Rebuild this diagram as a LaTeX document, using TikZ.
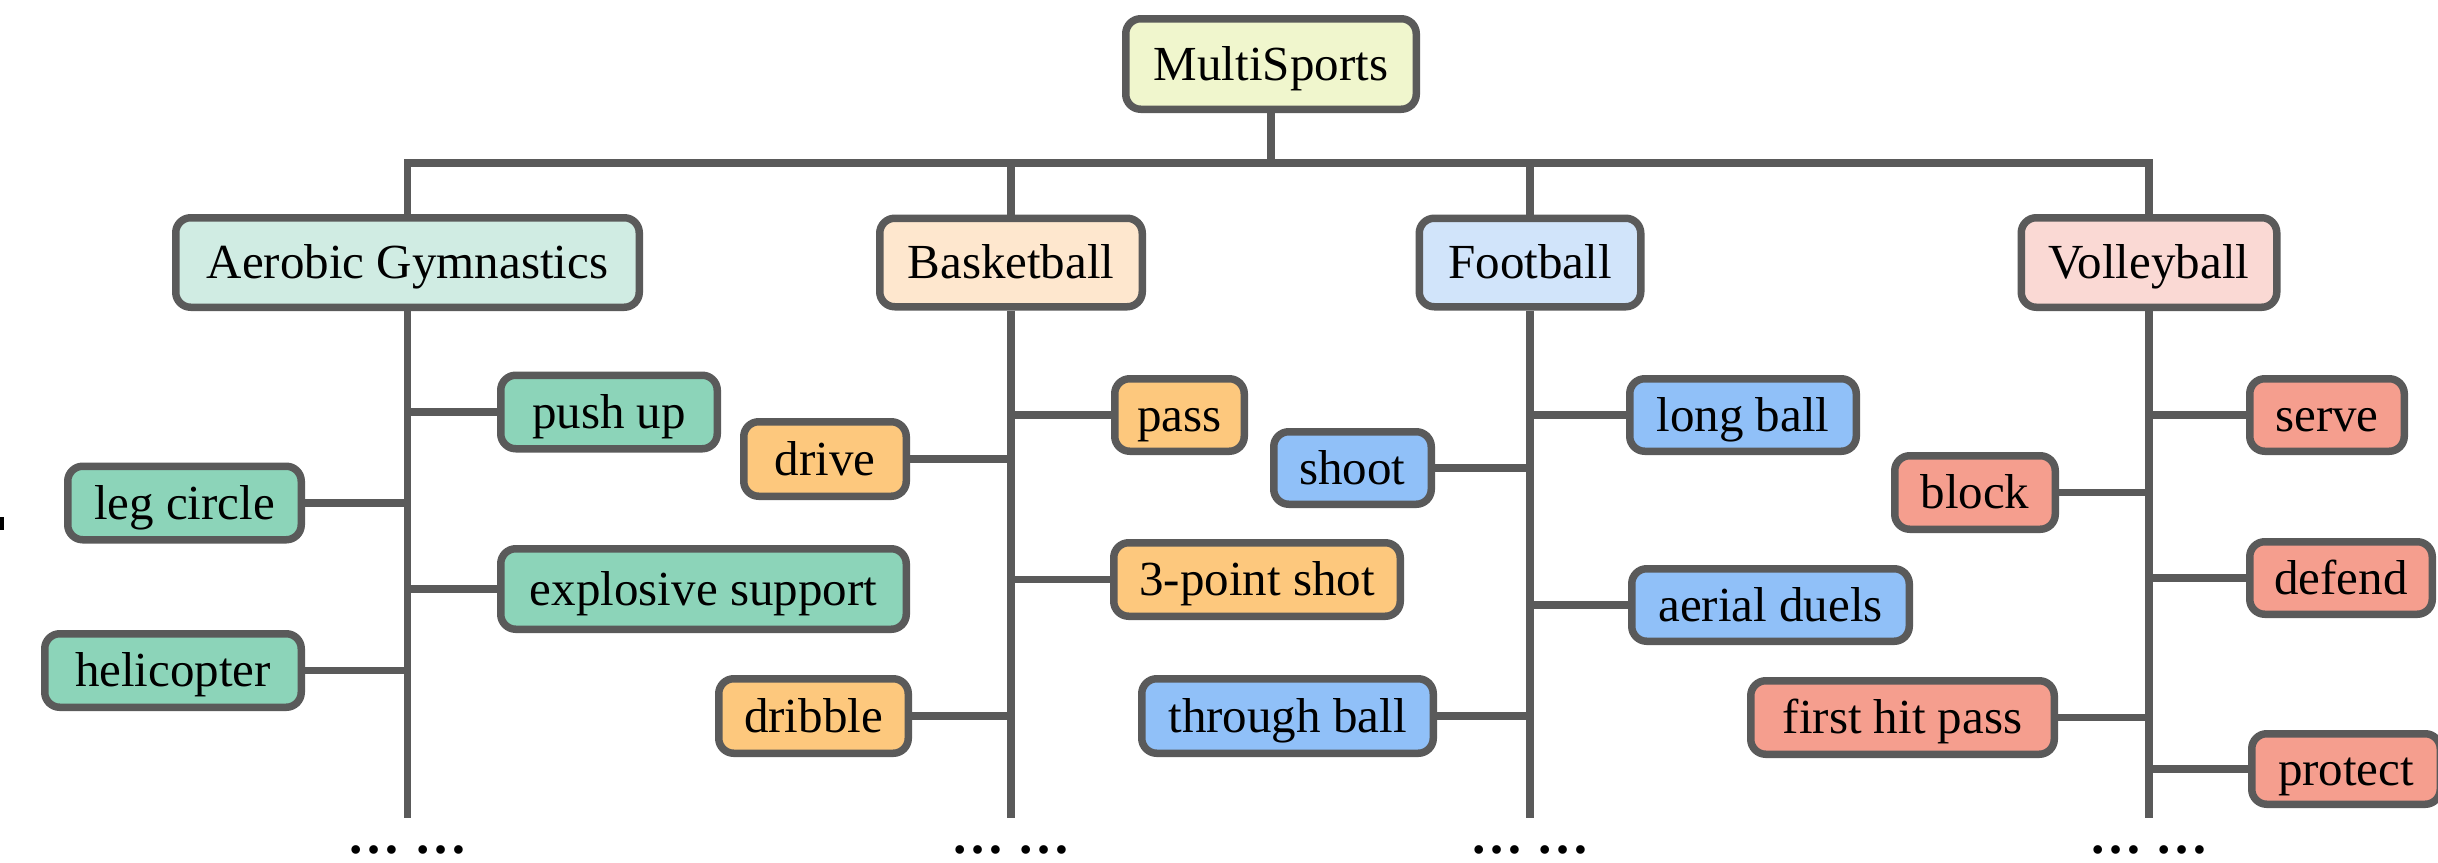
\documentclass[tikz,border=0pt]{standalone}
\usepackage{fontspec}
\setmainfont{Liberation Serif}

\definecolor{linegray}{HTML}{5A5A5A}
\definecolor{rootfill}{HTML}{F0F6CD}
\definecolor{aerofill}{HTML}{D0ECE3}
\definecolor{baskfill}{HTML}{FEE7CE}
\definecolor{footfill}{HTML}{D1E4FA}
\definecolor{volleyfill}{HTML}{FAD9D4}
\definecolor{aerokid}{HTML}{8CD4B9}
\definecolor{baskkid}{HTML}{FDC87D}
\definecolor{footkid}{HTML}{90C0F8}
\definecolor{volleykid}{HTML}{F59E8E}

\begin{document}
\begin{tikzpicture}[x=1pt, y=-1pt,
  box/.style={draw=linegray, line width=7.5pt, rounded corners=15pt,
    inner sep=0pt, text=black, anchor=center,
    text height=40pt, text depth=8pt,
    font=\fontsize{49}{58}\selectfont},
  wh/.style 2 args={minimum width=#1pt-7.5pt, minimum height=#2pt-7.5pt},
  link/.style={draw=linegray, line width=7.5pt},
  moredots/.style={inner sep=0pt, text=black,
    font=\fontsize{53}{60}\selectfont\bfseries}]

% canvas
\fill[white] (0,0) rectangle (2438,862);
\useasboundingbox (0,0) rectangle (2438,862);
\fill[black] (0,517) rectangle (4,530);

% helper rows
\coordinate (bar) at (0,163);
\coordinate (bot) at (0,818);
\coordinate (dotsrow) at (0,850);

% root and sports
\node[box, fill=rootfill, wh={298}{98}] (ms) at (1271,64) {MultiSports};
\node[box, fill=aerofill, wh={471}{97}] (aero) at (407.5,262.5) {Aerobic Gymnastics};
\node[box, fill=baskfill, wh={270}{96}] (bask) at (1011,262.5) {Basketball};
\node[box, fill=footfill, wh={229}{96}] (foot) at (1530,262.5) {Football};
\node[box, fill=volleyfill, wh={263}{97}] (volley) at (2149,262.5) {Volleyball};

% aerobic gymnastics actions
\node[box, fill=aerokid, wh={224}{81}] (pushup) at (609,412) {push up};
\node[box, fill=aerokid, wh={241}{81}] (legcircle) at (184.5,503) {leg circle};
\node[box, fill=aerokid, wh={413}{88}] (explosive) at (703.5,589) {explosive support};
\node[box, fill=aerokid, wh={264}{81}] (heli) at (173,670.5) {helicopter};

% basketball actions
\node[box, fill=baskkid, wh={137}{80}] (pass) at (1179.5,415) {pass};
\node[box, fill=baskkid, wh={170}{82}] (drive) at (825,459) {drive};
\node[box, fill=baskkid, wh={294}{81}] (threept) at (1257,579.5) {3-point shot};
\node[box, fill=baskkid, wh={197}{82}] (dribble) at (813.5,716) {dribble};

% football actions
\node[box, fill=footkid, wh={234}{80}] (longball) at (1743,415) {long ball};
\node[box, fill=footkid, wh={165}{80}] (shoot) at (1352.5,468) {shoot};
\node[box, fill=footkid, wh={285}{80}] (aerial) at (1770.5,605) {aerial duels};
\node[box, fill=footkid, wh={299}{82}] (through) at (1287.5,716) {through ball};

% volleyball actions
\node[box, fill=volleykid, wh={162}{80}] (serve) at (2327,415) {serve};
\node[box, fill=volleykid, wh={168}{81}] (block) at (1975,492.5) {block};
\node[box, fill=volleykid, wh={190}{80}] (defend) at (2341,578) {defend};
\node[box, fill=volleykid, wh={311}{81}] (firsthit) at (1902.5,717.5) {first hit pass};
\node[box, fill=volleykid, wh={196}{78}] (protect) at (2346,769) {protect};

% top level tree
\draw[link] (ms.south) -- (ms.south |- bar);
\draw[link] (aero.north) -- (aero.north |- bar) -- (volley.north |- bar) -- (volley.north);
\draw[link] (bask.north) -- (bask.north |- bar);
\draw[link] (foot.north) -- (foot.north |- bar);

% stems
\draw[link] (aero.south) -- (aero.south |- bot);
\draw[link] (bask.south) -- (bask.south |- bot);
\draw[link] (foot.south) -- (foot.south |- bot);
\draw[link] (volley.south) -- (volley.south |- bot);

% branches
\draw[link] (aero.south |- pushup.west) -- (pushup.west);
\draw[link] (legcircle.east) -- (aero.south |- legcircle.east);
\draw[link] (aero.south |- explosive.west) -- (explosive.west);
\draw[link] (heli.east) -- (aero.south |- heli.east);

\draw[link] (bask.south |- pass.west) -- (pass.west);
\draw[link] (drive.east) -- (bask.south |- drive.east);
\draw[link] (bask.south |- threept.west) -- (threept.west);
\draw[link] (dribble.east) -- (bask.south |- dribble.east);

\draw[link] (foot.south |- longball.west) -- (longball.west);
\draw[link] (shoot.east) -- (foot.south |- shoot.east);
\draw[link] (foot.south |- aerial.west) -- (aerial.west);
\draw[link] (through.east) -- (foot.south |- through.east);

\draw[link] (volley.south |- serve.west) -- (serve.west);
\draw[link] (block.east) -- (volley.south |- block.east);
\draw[link] (volley.south |- defend.west) -- (defend.west);
\draw[link] (firsthit.east) -- (volley.south |- firsthit.east);
\draw[link] (volley.south |- protect.west) -- (protect.west);

% continuation marks
\node[moredots] (aerodots) at (aero.south |- dotsrow) {… …};
\node[moredots] (baskdots) at (bask.south |- dotsrow) {… …};
\node[moredots] (footdots) at (foot.south |- dotsrow) {… …};
\node[moredots] (volleydots) at (volley.south |- dotsrow) {… …};
\end{tikzpicture}
\end{document}
